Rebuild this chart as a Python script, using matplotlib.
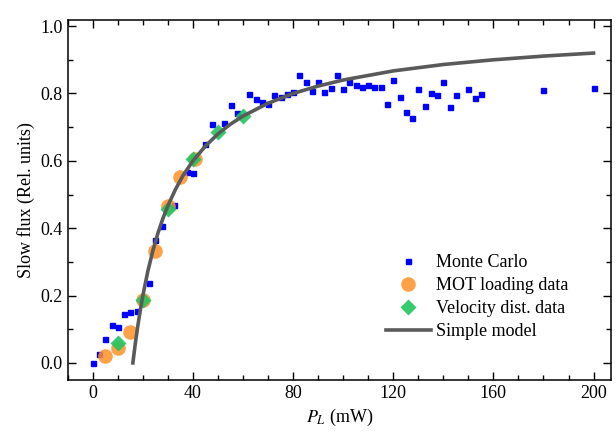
import matplotlib
matplotlib.use("Agg")
import matplotlib.pyplot as plt
from matplotlib.ticker import MultipleLocator

plt.rcParams["font.family"] = ["Liberation Serif", "DejaVu Serif"]
plt.rcParams["mathtext.fontset"] = "stix"

# Monte Carlo simulation (P_L in mW, slow flux)
mc_p = [0, 2.5, 5, 7.5, 10, 12.5, 15, 17.5, 22.5, 25, 27.5, 32.5, 37.5, 40,
        45, 47.5, 52.5, 55, 57.5, 62.5, 65, 67.5, 70, 72.5, 75, 77.5, 80,
        82.5, 85, 87.5, 90, 92.5, 95, 97.5, 100, 102.5, 105, 107.5, 110,
        112.5, 115, 117.5, 120, 122.5, 125, 127.5, 130, 132.5, 135, 137.5,
        140, 142.5, 145, 150, 152.5, 155, 180, 200]
mc_flux = [0.0, 0.027, 0.07, 0.112, 0.108, 0.145, 0.15, 0.153, 0.237, 0.364,
           0.407, 0.469, 0.568, 0.565, 0.649, 0.708, 0.713, 0.765, 0.741,
           0.799, 0.783, 0.776, 0.770, 0.795, 0.789, 0.798, 0.804, 0.856,
           0.833, 0.808, 0.833, 0.804, 0.815, 0.856, 0.812, 0.833, 0.826,
           0.818, 0.826, 0.818, 0.818, 0.768, 0.839, 0.789, 0.745, 0.726,
           0.812, 0.764, 0.800, 0.795, 0.833, 0.760, 0.795, 0.812, 0.788,
           0.799, 0.811, 0.815]

# MOT loading data
mot_p = [5, 10, 15, 20, 25, 30, 35, 41]
mot_flux = [0.022, 0.044, 0.091, 0.188, 0.331, 0.466, 0.551, 0.606]

# Velocity distribution data
vel_p = [10, 20, 30, 40, 50, 60]
vel_flux = [0.060, 0.188, 0.458, 0.604, 0.685, 0.733]

# Simple model curve
model_p = [16, 17, 18, 19, 20, 22, 24, 26, 28, 30, 33, 36, 40, 45, 50, 55,
           60, 70, 80, 90, 100, 120, 140, 160, 180, 200]
model_flux = [0.0, 0.059, 0.111, 0.158, 0.200, 0.273, 0.333, 0.385, 0.429,
              0.467, 0.515, 0.556, 0.600, 0.644, 0.680, 0.709, 0.733, 0.771,
              0.800, 0.822, 0.840, 0.867, 0.886, 0.900, 0.911, 0.920]

fig = plt.figure(figsize=(6.16, 4.36), dpi=100)
ax = fig.add_axes([0.110, 0.129, 0.882, 0.825])

ax.plot(mc_p, mc_flux, ls="none", marker="s", ms=3.6, color="#0000ff",
        label="Monte Carlo", zorder=3)
ax.plot(mot_p, mot_flux, ls="none", marker="o", ms=10.5, color="#ff9126",
        alpha=0.85, mec="none", label="MOT loading data", zorder=4)
ax.plot(vel_p, vel_flux, ls="none", marker="D", ms=8, color="#22c55e",
        alpha=0.9, mec="none", label="Velocity dist. data", zorder=5)
ax.plot(model_p, model_flux, color="#5a5a5a", lw=2.6,
        label="Simple model", zorder=6)

ax.set_xlim(-10, 207)
ax.set_ylim(-0.05, 1.018)
ax.xaxis.set_major_locator(MultipleLocator(40))
ax.xaxis.set_minor_locator(MultipleLocator(10))
ax.yaxis.set_major_locator(MultipleLocator(0.2))
ax.yaxis.set_minor_locator(MultipleLocator(0.1))
ax.yaxis.set_major_formatter(matplotlib.ticker.FormatStrFormatter("%.1f"))
ax.tick_params(which="both", direction="in", top=True, right=True,
               labelsize=13, width=1)
ax.tick_params(which="major", length=6)
ax.tick_params(which="minor", length=3.5)
for s in ax.spines.values():
    s.set_linewidth(1.1)

ax.set_xlabel(r"$P_L$ (mW)", fontsize=13)
ax.set_ylabel("Slow flux (Rel. units)", fontsize=13)

ax.legend(loc="lower right", bbox_to_anchor=(0.935, 0.09), frameon=False,
          fontsize=13, handlelength=2.5, handletextpad=0.3,
          labelspacing=0.33, borderaxespad=0)

fig.savefig("out.png", dpi=100)
